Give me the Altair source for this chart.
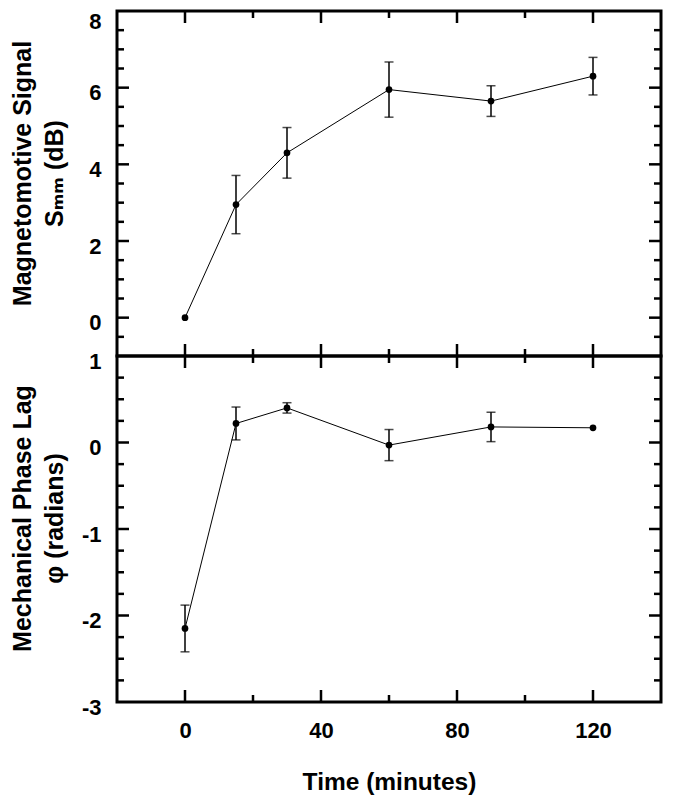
import altair as alt
import pandas as pd

# ---- data ----
time_min = [0, 15, 30, 60, 90, 120]
smm_db = [0.0, 2.95, 4.30, 5.95, 5.65, 6.30]
smm_err = [0.0, 0.76, 0.66, 0.72, 0.40, 0.49]
phase_rad = [-2.15, 0.22, 0.40, -0.03, 0.18, 0.17]
phase_err = [0.27, 0.19, 0.06, 0.18, 0.17, 0.0]

x_major = [0, 40, 80, 120]
x_minor = [20, 60, 100]
x_labels = [0, 40, 80, 120]

top_y_labels = [0, 2, 4, 6, 8]
top_y_major = [0, 2, 4, 6]
top_y_minor = [-0.5, 0.5, 1, 1.5, 2.5, 3, 3.5, 4.5, 5, 5.5, 6.5, 7, 7.5]

bot_y_labels = [-3, -2, -1, 0, 1]
bot_y_major = [-2, -1, 0]
bot_y_minor = [-2.75, -2.5, -2.25, -1.75, -1.5, -1.25, -0.75, -0.5, -0.25,
               0.25, 0.5, 0.75]

FONT = "Liberation Sans, Arial, DejaVu Sans, sans-serif"
W = 544
H_TOP = 345
H_BOT = 346
XDOM = [-20, 140]


def panel(values, errs, ydom, ylabels, ymaj, ymin, H, title_lines, bottom):
    df = pd.DataFrame({"x": time_min, "y": values, "e": errs})
    df["lo"] = df["y"] - df["e"]
    df["hi"] = df["y"] + df["e"]
    dfe = df[df["e"] > 0]

    xs = alt.Scale(domain=XDOM, nice=False, zero=False)
    ys = alt.Scale(domain=ydom, nice=False, zero=False)

    if bottom:
        xaxis = alt.Axis(values=x_labels, ticks=False, tickSize=0, domain=False,
                         grid=False, labelFont=FONT, labelFontSize=22,
                         labelFontWeight="bold", labelColor="black",
                         labelPadding=18, title="Time (minutes)",
                         titleFont=FONT, titleFontSize=24.5,
                         titleFontWeight="bold", titleColor="black",
                         titlePadding=29)
    else:
        xaxis = None

    yaxis = alt.Axis(values=ylabels, ticks=False, tickSize=0, domain=False,
                     grid=False, labelFont=FONT, labelFontSize=22,
                     labelFontWeight="bold", labelColor="black",
                     labelPadding=16, labelOffset=5,
                     labelExpr="'' + datum.value",
                     labelFlush=not bottom, labelFlushOffset=5,
                     title=title_lines, titleFont=FONT, titleFontSize=25,
                     titleFontWeight="bold", titleColor="black",
                     titleLineHeight=32, titleX=-82, titleY=162)

    X = lambda f: alt.X(f, scale=xs, axis=xaxis)
    Y = lambda f: alt.Y(f, scale=ys, axis=yaxis)

    line = alt.Chart(df).mark_line(color="black", strokeWidth=1).encode(
        x=X("x:Q"), y=Y("y:Q"))
    pts = alt.Chart(df).mark_circle(color="black", opacity=1, size=45).encode(
        x=X("x:Q"), y=Y("y:Q"))
    bars = alt.Chart(dfe).mark_rule(color="black", strokeWidth=1.5).encode(
        x=X("x:Q"), y=Y("lo:Q"), y2="hi:Q")
    cap_lo = alt.Chart(dfe).mark_tick(color="black", orient="horizontal",
                                      size=9, thickness=1.5).encode(
        x=X("x:Q"), y=Y("lo:Q"))
    cap_hi = alt.Chart(dfe).mark_tick(color="black", orient="horizontal",
                                      size=9, thickness=1.5).encode(
        x=X("x:Q"), y=Y("hi:Q"))

    layers = [line, bars, cap_lo, cap_hi, pts]
    # inward frame ticks
    for vals, ln in ((ymaj, 12), (ymin, 7)):
        d = pd.DataFrame({"y": vals})
        layers.append(alt.Chart(d).mark_rule(color="black", strokeWidth=2.5).encode(
            y=Y("y:Q"), x=alt.value(0), x2=alt.value(ln)))
        layers.append(alt.Chart(d).mark_rule(color="black", strokeWidth=2.5).encode(
            y=Y("y:Q"), x=alt.value(W), x2=alt.value(W - ln)))
    for vals, ln in ((x_major, 12), (x_minor, 7)):
        d = pd.DataFrame({"x": vals})
        layers.append(alt.Chart(d).mark_rule(color="black", strokeWidth=2.5).encode(
            x=X("x:Q"), y=alt.value(0), y2=alt.value(ln)))
        layers.append(alt.Chart(d).mark_rule(color="black", strokeWidth=2.5).encode(
            x=X("x:Q"), y=alt.value(H), y2=alt.value(H - ln)))

    return alt.layer(*layers).properties(width=W, height=H)


top = panel(smm_db, smm_err, [-1, 8], top_y_labels, top_y_major, top_y_minor,
            H_TOP, ["Magnetomotive Signal", "S\u2098\u2098 (dB)"], False)
bot = panel(phase_rad, phase_err, [-3, 1], bot_y_labels, bot_y_major, bot_y_minor,
            H_BOT, ["Mechanical Phase Lag", "\u03c6 (radians)"], True)

chart = alt.vconcat(top, bot, spacing=0, bounds="flush").properties(
    padding={"left": 0, "top": 0, "right": 5, "bottom": 0},
    background="white",
).configure_view(stroke="black", strokeWidth=3)

chart.save("out.html", embed_options={"renderer": "svg", "actions": False})
